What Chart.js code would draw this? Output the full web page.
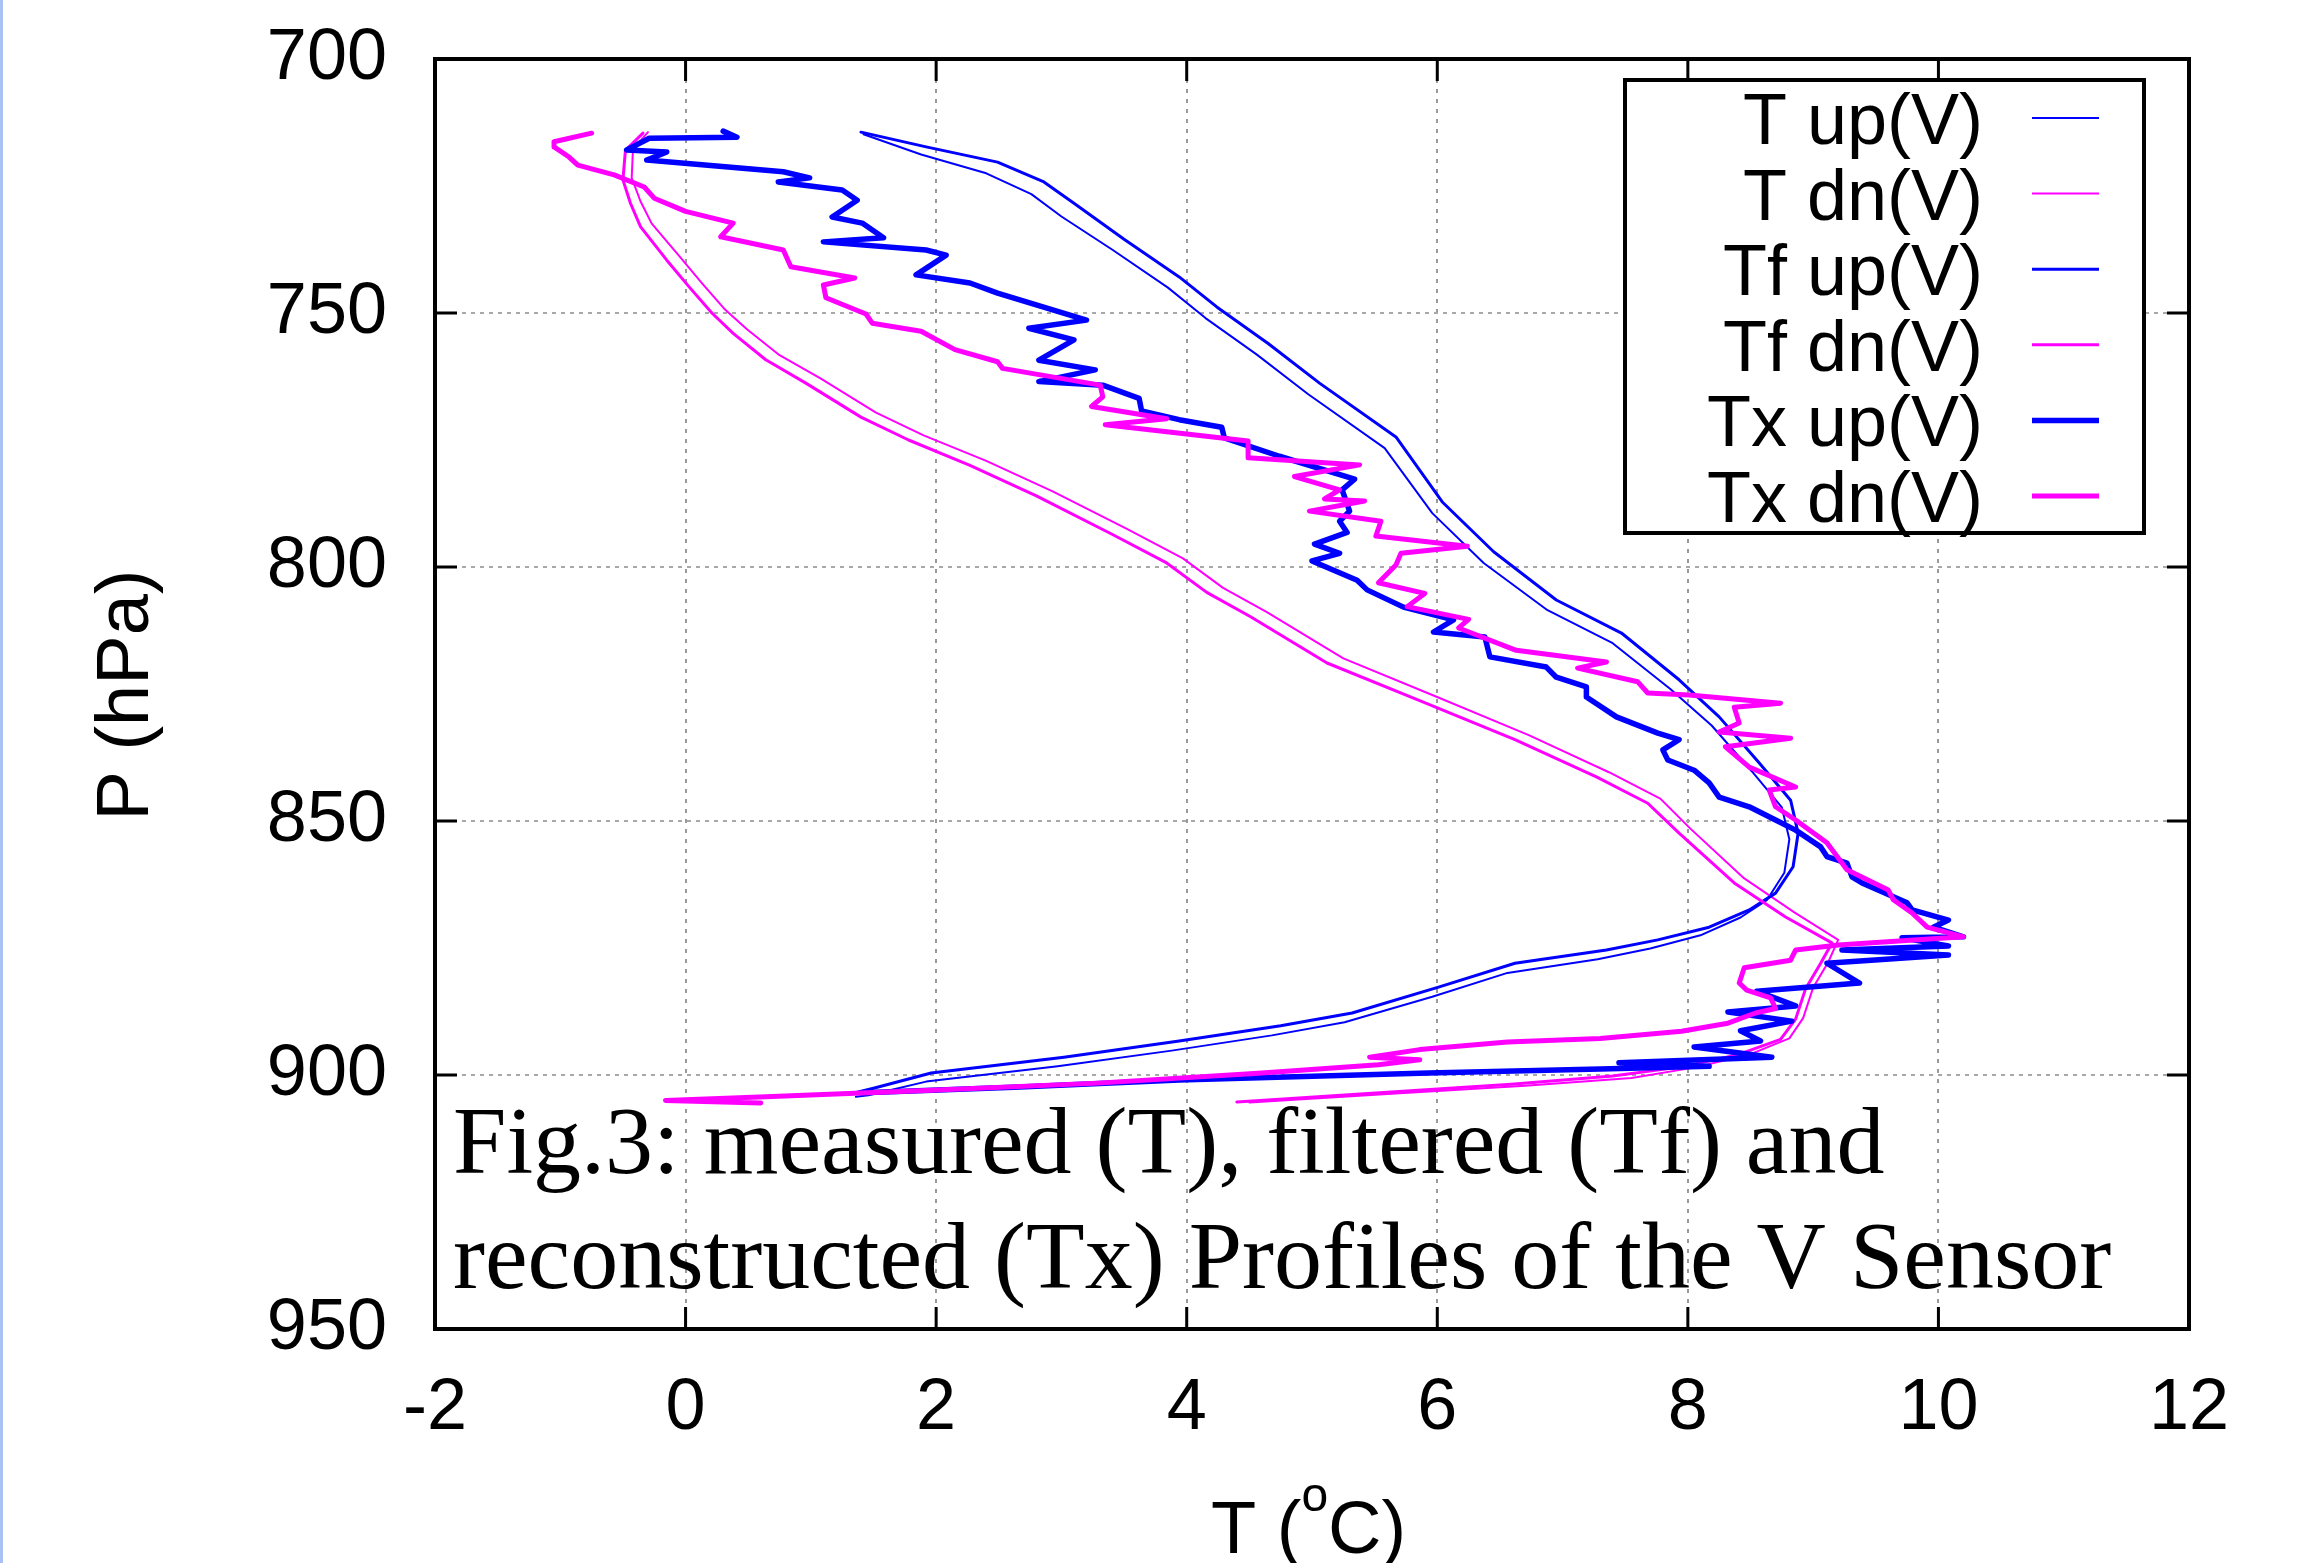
<!DOCTYPE html>
<html>
<head>
<meta charset="utf-8">
<title>Fig.3 - V sensor profiles</title>
<script src="https://cdn.jsdelivr.net/npm/chart.js@4.4.1/dist/chart.umd.min.js"></script>
<style>
  html, body { margin: 0; padding: 0; background: #fff; }
  #wrap { position: relative; width: 2322px; height: 1563px; overflow: hidden; }
  #wrap canvas { position: absolute; left: 0; top: 0; }
  #edge { position: absolute; left: 0; top: 0; width: 3px; height: 1563px; background: #a9c1f5; }
</style>
</head>
<body>
<div id="wrap">
  <canvas id="profile-chart" width="2322" height="1563"></canvas>
  <div id="edge"></div>
</div>
<script>
// Values: temperature in deg C, pressure in hPa, top of profile first

// measured, ascent
const tUpTemp = [1.42, 1.88, 2.40, 2.76, 3.00, 3.41, 3.85, 4.15, 4.56, 4.97, 5.58, 5.96, 6.37, 6.88, 7.40, 7.86, 8.19, 8.51, 8.75, 8.81, 8.77, 8.63, 8.42, 8.10, 7.70, 7.28, 6.56, 5.96, 5.26, 4.68, 3.88, 2.97, 1.92, 1.46, 1.36];
const tUpPres = [714.8, 718.8, 722.5, 726.6, 731.0, 737.6, 745.0, 751.0, 758.2, 766.0, 776.6, 789.4, 799.2, 808.5, 815.0, 824.0, 831.2, 840.2, 847.3, 853.6, 860.2, 865.6, 869.0, 872.5, 875.1, 877.2, 879.9, 884.6, 889.6, 892.2, 895.2, 898.3, 901.3, 904.0, 904.3];

// measured, descent
const tDnTemp = [-0.30, -0.42, -0.43, -0.36, -0.27, -0.05, 0.13, 0.31, 0.49, 0.75, 1.08, 1.52, 1.90, 2.40, 2.93, 3.53, 3.97, 4.29, 4.64, 5.25, 5.97, 6.73, 7.37, 7.78, 8.02, 8.45, 8.85, 9.20, 9.12, 9.00, 8.92, 8.81, 8.50, 8.06, 7.55, 6.70, 5.70, 4.50];
const tDnPres = [714.4, 717.8, 723.4, 728.0, 732.4, 738.8, 744.1, 749.2, 753.2, 758.3, 762.9, 769.6, 774.1, 779.1, 785.1, 792.6, 798.3, 804.1, 808.9, 818.0, 825.3, 833.1, 840.4, 845.6, 851.5, 861.3, 868.0, 873.4, 877.8, 882.8, 888.8, 892.8, 895.9, 898.5, 900.6, 902.1, 903.6, 905.4];

// filtered, ascent
const tfUpTemp = [1.40, 1.92, 2.49, 2.86, 3.10, 3.50, 3.94, 4.24, 4.65, 5.06, 5.67, 6.04, 6.45, 6.95, 7.47, 7.93, 8.25, 8.57, 8.82, 8.88, 8.84, 8.70, 8.49, 8.17, 7.76, 7.35, 6.62, 6.01, 5.32, 4.75, 3.94, 3.02, 1.96, 1.50, 1.37];
const tfUpPres = [714.4, 717.3, 720.3, 724.2, 728.4, 735.5, 742.9, 748.8, 756.0, 763.8, 774.4, 787.2, 797.0, 806.5, 813.0, 822.2, 829.5, 838.6, 845.9, 852.4, 859.0, 864.2, 867.5, 870.9, 873.4, 875.4, 878.0, 882.7, 887.8, 890.3, 893.3, 896.5, 899.6, 902.6, 903.4];

// filtered, descent
const tfDnTemp = [-0.34, -0.48, -0.50, -0.44, -0.36, -0.15, 0.03, 0.21, 0.38, 0.64, 0.96, 1.40, 1.78, 2.27, 2.80, 3.40, 3.84, 4.16, 4.51, 5.12, 5.85, 6.62, 7.27, 7.68, 7.93, 8.37, 8.78, 9.15, 9.06, 8.94, 8.86, 8.74, 8.40, 7.95, 7.40, 6.59, 5.60, 4.40];
const tfDnPres = [714.6, 718.0, 723.8, 728.4, 733.0, 739.6, 744.9, 750.0, 754.0, 759.2, 763.8, 770.5, 775.0, 780.0, 786.0, 793.5, 799.2, 805.0, 809.8, 818.9, 826.2, 834.0, 841.3, 846.5, 852.4, 862.2, 868.9, 874.0, 878.0, 883.0, 889.0, 893.0, 896.0, 898.4, 900.2, 901.8, 903.4, 905.3];

// reconstructed, ascent
const txUpTemp = [0.30, 0.41, -0.29, -0.47, -0.15, -0.31, 0.78, 0.99, 0.74, 1.25, 1.37, 1.17, 1.41, 1.58, 1.10, 1.92, 2.08, 1.84, 2.27, 2.49, 3.20, 2.74, 3.10, 2.82, 3.27, 2.82, 3.33, 3.62, 3.64, 3.94, 4.28, 4.30, 4.74, 5.34, 5.24, 5.30, 5.22, 5.28, 5.02, 5.22, 5.00, 5.36, 5.44, 5.73, 6.13, 5.97, 6.38, 6.42, 6.87, 6.95, 7.19, 7.19, 7.43, 7.76, 7.93, 7.80, 7.84, 8.05, 8.17, 8.25, 8.49, 8.70, 8.86, 9.06, 9.11, 9.27, 9.31, 9.39, 9.75, 9.79, 10.08, 9.96, 10.20, 9.71, 10.08, 9.23, 10.08, 9.11, 9.37, 8.55, 8.86, 8.32, 8.83, 8.42, 8.58, 8.05, 8.67, 7.45, 8.17, 7.30, 5.93, 3.94, 2.62, 1.42];
const txUpPres = [714.2, 715.4, 715.6, 717.9, 718.3, 719.9, 722.2, 723.4, 724.2, 725.8, 727.8, 731.1, 732.3, 735.2, 736.0, 737.6, 738.6, 742.5, 744.1, 746.1, 751.4, 753.0, 755.3, 759.3, 761.2, 763.5, 764.2, 766.8, 769.3, 771.0, 772.5, 774.6, 778.2, 782.7, 784.8, 789.0, 791.0, 793.2, 795.5, 797.3, 798.8, 802.6, 804.5, 807.9, 810.4, 812.8, 813.8, 817.7, 819.7, 821.7, 823.6, 825.6, 829.5, 832.7, 834.0, 836.0, 838.0, 840.0, 842.5, 845.3, 847.2, 849.8, 851.8, 855.1, 857.0, 858.3, 861.0, 862.2, 866.1, 867.5, 869.5, 870.9, 872.8, 873.0, 874.6, 875.4, 876.4, 878.0, 881.9, 883.5, 886.4, 887.6, 889.4, 891.3, 893.3, 894.5, 896.5, 897.6, 898.3, 898.8, 899.6, 901.0, 902.4, 903.5];

// reconstructed, descent
const txDnTemp = [-0.75, -1.05, -1.05, -0.93, -0.86, -0.57, -0.33, -0.25, 0.00, 0.38, 0.28, 0.78, 0.84, 1.35, 1.10, 1.12, 1.44, 1.49, 1.88, 2.15, 2.49, 2.53, 3.31, 3.33, 3.24, 3.84, 3.35, 4.49, 4.49, 5.38, 4.86, 5.22, 5.10, 5.42, 4.98, 5.55, 5.51, 6.24, 5.71, 5.67, 5.53, 5.90, 5.76, 6.25, 6.17, 6.63, 7.35, 7.12, 7.60, 7.68, 8.01, 8.74, 8.37, 8.41, 8.25, 8.82, 8.30, 8.49, 8.86, 8.65, 8.70, 8.86, 9.11, 9.27, 9.60, 9.64, 9.79, 9.91, 10.20, 9.20, 8.86, 8.82, 8.45, 8.41, 8.47, 8.66, 8.70, 8.54, 8.32, 7.95, 7.30, 6.56, 5.86, 5.46, 5.86, 5.53, 4.60, 3.29, 1.96, 0.64, -0.16, 0.60];
const txDnPres = [714.6, 716.3, 717.3, 719.3, 720.9, 722.8, 725.2, 727.4, 730.0, 732.3, 735.0, 737.6, 740.9, 743.1, 744.5, 747.0, 750.2, 752.0, 753.6, 757.2, 759.6, 760.9, 764.2, 766.5, 768.4, 770.8, 772.0, 775.2, 778.5, 779.9, 782.2, 784.8, 786.6, 787.0, 789.0, 791.0, 793.9, 795.9, 797.3, 799.6, 803.1, 805.2, 807.8, 810.3, 812.0, 816.4, 818.7, 819.9, 822.6, 824.8, 825.2, 826.8, 827.6, 830.7, 832.5, 833.7, 835.4, 839.4, 843.3, 843.9, 847.2, 849.8, 854.3, 859.6, 863.6, 865.5, 868.1, 870.9, 872.8, 874.4, 875.4, 877.4, 878.9, 881.9, 883.3, 884.8, 886.9, 887.8, 889.8, 891.4, 892.8, 893.5, 895.0, 896.5, 897.0, 898.0, 899.6, 901.6, 903.0, 904.3, 905.0, 905.5];

const tempTicks = [-2, 0, 2, 4, 6, 8, 10, 12];
const presTicks = [700, 750, 800, 850, 900, 950];

const BLUE = '#0000ff';
const MAGENTA = '#ff00ff';
const TEXT_FONT = 'Liberation Sans';

function points(temps, pres) {
    return temps.map((t, i) => ({ x: t, y: pres[i] }));
}

function profile(label, temps, pres, color, width, order) {
    return {
        label: label,
        data: points(temps, pres),
        borderColor: color,
        backgroundColor: color,
        borderWidth: width,
        showLine: true,
        pointRadius: 0,
        order: order
    };
}

// frame, inward ticks, axis titles, key box and the caption
const figureDecor = {
    id: 'figureDecor',
    afterDraw(chart) {
        const ctx = chart.ctx;
        const area = chart.chartArea;
        const xs = chart.scales.x;
        const ys = chart.scales.y;
        ctx.save();

        ctx.strokeStyle = '#000';
        ctx.lineWidth = 3;
        ctx.beginPath();
        tempTicks.forEach(v => {
            const px = xs.getPixelForValue(v);
            ctx.moveTo(px, area.bottom); ctx.lineTo(px, area.bottom - 22);
            ctx.moveTo(px, area.top); ctx.lineTo(px, area.top + 22);
        });
        presTicks.forEach(v => {
            const py = ys.getPixelForValue(v);
            ctx.moveTo(area.left, py); ctx.lineTo(area.left + 22, py);
            ctx.moveTo(area.right, py); ctx.lineTo(area.right - 22, py);
        });
        ctx.stroke();
        ctx.lineWidth = 4;
        ctx.strokeRect(area.left, area.top, area.right - area.left, area.bottom - area.top);

        // axis titles
        ctx.fillStyle = '#000';
        ctx.font = '74px "' + TEXT_FONT + '"';
        ctx.save();
        ctx.translate(128, 695);
        ctx.rotate(-Math.PI / 2);
        ctx.textAlign = 'center';
        ctx.textBaseline = 'middle';
        ctx.fillText('P (hPa)', 0, 0);
        ctx.restore();

        ctx.textAlign = 'left';
        ctx.textBaseline = 'alphabetic';
        let tx = 1211;
        const base = 1553;
        ctx.font = '74px "' + TEXT_FONT + '"';
        ctx.fillText('T (', tx, base);
        tx += ctx.measureText('T (').width;
        ctx.font = '48px "' + TEXT_FONT + '"';
        ctx.fillText('o', tx, base - 42);
        tx += ctx.measureText('o').width;
        ctx.font = '74px "' + TEXT_FONT + '"';
        ctx.fillText('C)', tx, base);

        // key
        const box = { left: 1625, top: 80, right: 2144, bottom: 533 };
        ctx.fillStyle = '#fff';
        ctx.fillRect(box.left, box.top, box.right - box.left, box.bottom - box.top);
        ctx.lineWidth = 4;
        ctx.strokeStyle = '#000';
        ctx.strokeRect(box.left, box.top, box.right - box.left, box.bottom - box.top);
        ctx.font = '72px "' + TEXT_FONT + '"';
        ctx.textAlign = 'right';
        chart.data.datasets.forEach((ds, i) => {
            const rowY = 118 + i * 75.6;
            ctx.fillStyle = '#000';
            ctx.fillText(ds.label, 1983, rowY + 26);
            ctx.strokeStyle = ds.borderColor;
            ctx.lineWidth = ds.borderWidth;
            ctx.beginPath();
            ctx.moveTo(2032, rowY);
            ctx.lineTo(2099, rowY);
            ctx.stroke();
        });

        // caption inside the plot
        ctx.fillStyle = '#000';
        ctx.textAlign = 'left';
        ctx.font = '96px "Liberation Serif"';
        ctx.fillText('Fig.3: measured (T), filtered (Tf) and', 453, 1173);
        ctx.fillText('reconstructed (Tx) Profiles of the V Sensor', 453, 1288);

        ctx.restore();
    }
};

Chart.defaults.font.family = TEXT_FONT;
Chart.defaults.color = '#000';

const ctx = document.getElementById('profile-chart').getContext('2d');
const profileChart = new Chart(ctx, {
    type: 'scatter',
    data: {
        datasets: [
            profile('T up(V)', tUpTemp, tUpPres, BLUE, 2, 5),
            profile('T dn(V)', tDnTemp, tDnPres, MAGENTA, 2, 4),
            profile('Tf up(V)', tfUpTemp, tfUpPres, BLUE, 3, 3),
            profile('Tf dn(V)', tfDnTemp, tfDnPres, MAGENTA, 3, 2),
            profile('Tx up(V)', txUpTemp, txUpPres, BLUE, 5.5, 1),
            profile('Tx dn(V)', txDnTemp, txDnPres, MAGENTA, 5, 0)
        ]
    },
    options: {
        responsive: false,
        animation: false,
        devicePixelRatio: 1,
        layout: { padding: { top: 59, right: 133, bottom: 0, left: 0 } },
        elements: {
            line: { tension: 0, borderJoinStyle: 'round', borderCapStyle: 'round' }
        },
        plugins: {
            legend: { display: false },
            tooltip: { enabled: false }
        },
        scales: {
            x: {
                type: 'linear',
                min: -2,
                max: 12,
                afterBuildTicks: scale => { scale.ticks = tempTicks.map(v => ({ value: v })); },
                ticks: { font: { size: 72 }, color: '#000', padding: 37 },
                grid: { color: '#9a9a9a', lineWidth: 2, drawTicks: false },
                border: { display: false, dash: [4, 6] },
                afterFit: scale => {
                    scale.height = 234;
                    scale.paddingLeft = 0;
                    scale.paddingRight = 0;
                }
            },
            y: {
                type: 'linear',
                reverse: true,
                min: 700,
                max: 950,
                afterBuildTicks: scale => { scale.ticks = presTicks.map(v => ({ value: v })); },
                ticks: { font: { size: 72 }, color: '#000', padding: 48 },
                grid: { color: '#a8a8a8', lineWidth: 2, drawTicks: false },
                border: { display: false, dash: [4, 5] },
                afterFit: scale => {
                    scale.width = 435;
                    scale.paddingTop = 0;
                    scale.paddingBottom = 0;
                }
            }
        }
    },
    plugins: [figureDecor]
});
</script>
</body>
</html>
